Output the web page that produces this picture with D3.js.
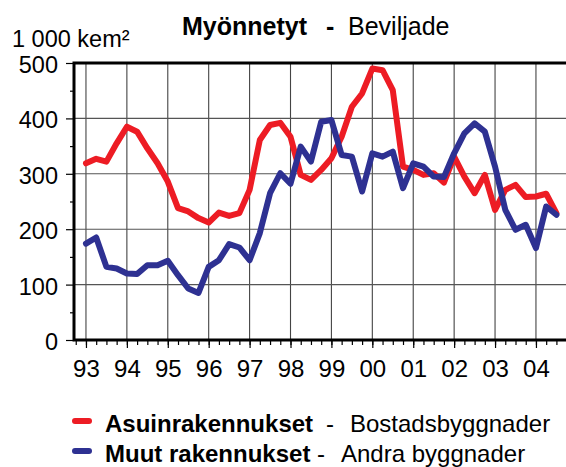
<!DOCTYPE html>
<html>
<head>
<meta charset="utf-8">
<script src="https://cdn.jsdelivr.net/npm/d3@7"></script>
<style>
  body { margin: 0; background: #fff; }
  svg { display: block; font-family: "Liberation Sans", Arial, sans-serif; }
</style>
</head>
<body>
<svg id="chart" width="566" height="467"></svg>
<script>
// quarterly data, 1993 Q1 .. 2004 Q3 (1 000 kem²)
const yearLabels = ["93","94","95","96","97","98","99","00","01","02","03","04"];
const yTicks = [0, 100, 200, 300, 400, 500];

// Asuinrakennukset - Bostadsbyggnader
const residential = [
  319, 327, 322, 355, 385, 376, 346, 319, 286, 238, 232, 220,
  212, 230, 224, 229, 271, 361, 388, 392, 367, 298, 289, 307,
  328, 367, 421, 445, 490, 487, 451, 313, 307, 298, 301, 284,
  331, 295, 265, 298, 235, 271, 280, 258, 259, 264, 229
];
// Muut rakennukset - Andra byggnader
const other = [
  174, 185, 132, 129, 120, 119, 135, 135, 143, 117, 93, 85,
  132, 144, 173, 167, 144, 193, 265, 301, 282, 349, 322, 394,
  397, 334, 331, 268, 337, 331, 340, 274, 319, 313, 295, 294,
  337, 373, 391, 376, 313, 235, 199, 208, 166, 241, 226
];

const red = "#ed1c24", blue = "#2e3192";

const svg = d3.select("#chart");
const margin = {left: 74, top: 63, bottom: 340};

// x is the quarter index, 0 = 1993 Q1
const x = d3.scaleLinear().domain([-1.17, 47.5]).range([margin.left, margin.left + 48.67 * 10.227]);
const y = d3.scaleLinear().domain([0, 500]).range([margin.bottom, margin.top]);

const quarters = d3.range(-1, 48);
const yearIdx = yearLabels.map((d, i) => i * 4);

// grid
svg.append("g").selectAll("line").data(yearIdx).join("line")
    .attr("x1", d => x(d)).attr("x2", d => x(d))
    .attr("y1", y(0)).attr("y2", y(500))
    .attr("stroke", "#444").attr("stroke-width", 1.1);
svg.append("g").selectAll("line").data(yTicks.filter(d => d > 0 && d < 500)).join("line")
    .attr("x1", x.range()[0]).attr("x2", 566)
    .attr("y1", d => y(d)).attr("y2", d => y(d))
    .attr("stroke", "#555").attr("stroke-width", 1.1);

// axes
const xMinor = svg.append("g").attr("transform", `translate(0,${y(0)})`)
    .call(d3.axisBottom(x).tickValues(quarters).tickSize(5).tickFormat(""));
const xAxis = svg.append("g").attr("transform", `translate(0,${y(0)})`)
    .call(d3.axisBottom(x).tickValues(yearIdx).tickSize(8).tickFormat((d, i) => yearLabels[i]));
xAxis.selectAll("text").attr("y", 20).attr("dy", "0.71em")
    .style("font-size", "24px").attr("fill", "#000").attr("font-family", null);

const yMinor = svg.append("g").attr("transform", `translate(${margin.left},0)`)
    .call(d3.axisLeft(y).tickValues(d3.range(50, 500, 100)).tickSize(4).tickFormat(""));
const yAxis = svg.append("g").attr("transform", `translate(${margin.left},0)`)
    .call(d3.axisLeft(y).tickValues(yTicks).tickSize(8).tickPadding(8));
yAxis.selectAll("text").attr("dy", "0.4em")
    .style("font-size", "23.5px").attr("fill", "#000").attr("font-family", null);

[xMinor, xAxis, yMinor, yAxis].forEach(g => {
  g.select(".domain").remove();
  g.selectAll(".tick line").attr("stroke", "#000").attr("stroke-width", 1.2);
});

// frame: left, bottom, top
svg.append("path")
    .attr("d", `M566,${y(500)}H${margin.left}V${y(0)}H566`)
    .attr("fill", "none").attr("stroke", "#000").attr("stroke-width", 3);

// series
const line = d3.line().x((d, i) => x(i)).y(d => y(d));
svg.append("path").datum(residential)
    .attr("d", line).attr("fill", "none").attr("stroke", red)
    .attr("stroke-width", 6).attr("stroke-linejoin", "round").attr("stroke-linecap", "round");
svg.append("path").datum(other)
    .attr("d", line).attr("fill", "none").attr("stroke", blue)
    .attr("stroke-width", 6).attr("stroke-linejoin", "round").attr("stroke-linecap", "round");

// title + unit
const title = svg.append("text").attr("y", 35).style("font-size", "25px");
title.append("tspan").attr("x", 182).attr("font-weight", "bold").text("Myönnetyt");
title.append("tspan").attr("x", 326).attr("font-weight", "bold").text("-");
title.append("tspan").attr("x", 348).text("Beviljade");

svg.append("text").attr("x", 12).attr("y", 47).style("font-size", "23.5px").text("1 000 kem²");

// legend
const legend = [
  {color: red, fi: "Asuinrakennukset", sv: "Bostadsbyggnader", dash: 326, sx: 350, y: 432},
  {color: blue, fi: "Muut rakennukset", sv: "Andra byggnader", dash: 317, sx: 341, y: 462}
];
const lg = svg.append("g").selectAll("g").data(legend).join("g");
lg.append("line")
    .attr("x1", 75).attr("x2", 89)
    .attr("y1", d => d.y - 11).attr("y2", d => d.y - 11)
    .attr("stroke", d => d.color).attr("stroke-width", 6).attr("stroke-linecap", "round");
const lt = lg.append("text").attr("y", d => d.y).style("font-size", "24px");
lt.append("tspan").attr("x", 105).attr("font-weight", "bold").text(d => d.fi);
lt.append("tspan").attr("x", d => d.dash).text("-");
lt.append("tspan").attr("x", d => d.sx).text(d => d.sv);
</script>
</body>
</html>
